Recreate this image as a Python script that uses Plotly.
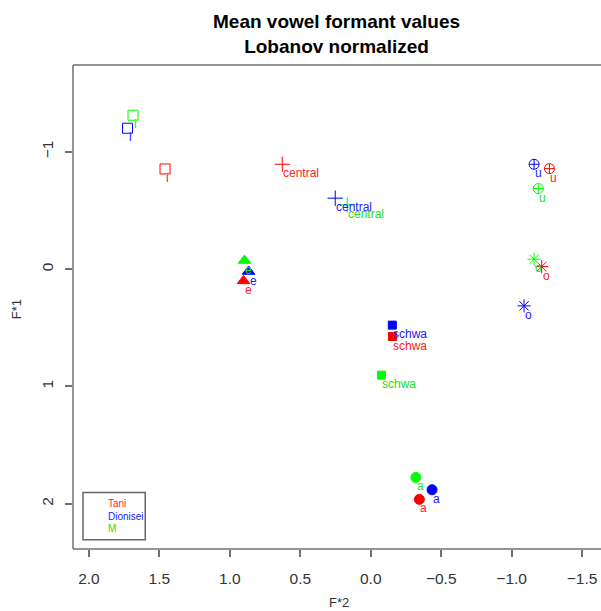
import plotly.graph_objects as go

vowels = ["i", "e", "central", "schwa", "a", "o", "u"]
symbols = ["square-open", "triangle-up", "cross-thin-open", "square", "circle", "asterisk-open", "circle-cross-open"]
sizes = [10, 11, 11, 8, 10, 11, 10]

speakers = ["Tani", "Dionisei", "M"]
colors = ["#FF0000", "#0000FF", "#00FF00"]
text_colors = ["#FF2020", "#2020FF", "#20E020"]

tani_f2 = [1.460, 0.903, 0.628, -0.154, -0.345, -1.213, -1.268]
tani_f1 = [-0.854, 0.100, -0.894, 0.574, 1.962, -0.022, -0.857]
dion_f2 = [1.726, 0.867, 0.252, -0.153, -0.435, -1.088, -1.159]
dion_f1 = [-1.201, 0.020, -0.605, 0.477, 1.880, 0.313, -0.894]
m_f2 = [1.687, 0.896, 0.167, -0.076, -0.320, -1.159, -1.189]
m_f1 = [-1.312, -0.073, -0.548, 0.903, 1.775, -0.085, -0.687]

f2_data = [tani_f2, dion_f2, m_f2]
f1_data = [tani_f1, dion_f1, m_f1]

x_ticks = [2.0, 1.5, 1.0, 0.5, 0.0, -0.5, -1.0, -1.5]
x_tick_text = ["2.0", "1.5", "1.0", "0.5", "0.0", "\u22120.5", "\u22121.0", "\u22121.5"]
y_ticks = [-1, 0, 1, 2]
y_tick_text = ["\u22121", "0", "1", "2"]

W, H = 601, 611
L, T, B = 72.7, 65.0, 549.3
x_range = [2.113, -1.634]
y_range = [2.385, -1.740]

FONT = "Liberation Sans, Arial, sans-serif"

pw = W - L
ph = B - T
def px_x(px):
    return (px - L) / pw
def px_y(py):
    return (B - py) / ph

fig = go.Figure()
annotations = []
for s, (f2, f1, col, tcol) in enumerate(zip(f2_data, f1_data, colors, text_colors)):
    fig.add_trace(go.Scatter(
        x=f2, y=f1, mode="markers", name=speakers[s], showlegend=False,
        marker=dict(symbol=symbols, size=sizes, color=col, opacity=1,
                    line=dict(color=col, width=1)),
        opacity=1,
        hoverinfo="skip",
    ))
    for v, xv, yv in zip(vowels, f2, f1):
        annotations.append(dict(
            x=xv, y=yv, xref="x", yref="y", text=v, showarrow=False,
            xanchor="left", yanchor="middle", xshift=-1, yshift=-9,
            font=dict(family=FONT, size=12, color=tcol),
        ))

# title
annotations.append(dict(
    x=px_x(336), xref="paper", y=px_y(34), yref="paper",
    text="<b>Mean vowel formant values<br>Lobanov normalized</b>",
    showarrow=False, xanchor="center", yanchor="middle",
    font=dict(family=FONT, size=19, color="black"),
))
# axis titles
annotations.append(dict(
    x=px_x(339), xref="paper", y=px_y(603), yref="paper", text="F*2",
    showarrow=False, xanchor="center", yanchor="middle",
    font=dict(family=FONT, size=13, color="#333333"),
))
annotations.append(dict(
    x=px_x(17), xref="paper", y=px_y(309), yref="paper", text="F*1", textangle=-90,
    showarrow=False, xanchor="center", yanchor="middle",
    font=dict(family=FONT, size=13, color="#333333"),
))

shapes = [
    dict(type="rect", xref="paper", yref="paper", x0=px_x(82.7), x1=px_x(145),
         y0=px_y(540), y1=px_y(492.7), line=dict(color="#666666", width=1.5)),
    # plot frame (left, top, bottom)
    dict(type="line", xref="paper", yref="paper", x0=0, x1=0, y0=0, y1=1,
         line=dict(color="#707070", width=1.5)),
    dict(type="line", xref="paper", yref="paper", x0=0, x1=1.02, y0=1, y1=1,
         line=dict(color="#707070", width=1.5)),
    dict(type="line", xref="paper", yref="paper", x0=0, x1=1.02, y0=0, y1=0,
         line=dict(color="#707070", width=1.5)),
]
for name, col, py in zip(speakers, text_colors, [504, 516.5, 529]):
    annotations.append(dict(
        x=px_x(106), xref="paper", y=px_y(py), yref="paper", text=name,
        showarrow=False, xanchor="left", yanchor="middle",
        font=dict(family=FONT, size=10, color=col),
    ))

fig.update_layout(
    width=W, height=H,
    margin=dict(l=L, r=0, t=T, b=H - B, pad=0),
    paper_bgcolor="white", plot_bgcolor="white",
    annotations=annotations, shapes=shapes,
    font=dict(family=FONT),
    xaxis=dict(range=x_range, tickvals=x_ticks, ticktext=x_tick_text,
               ticks="outside", ticklen=7, tickwidth=1.5, tickcolor="#707070",
               showgrid=False, zeroline=False, showline=False,
               tickfont=dict(family=FONT, size=15.5, color="#333333"),
               ticklabelstandoff=8),
    yaxis=dict(range=y_range, tickvals=y_ticks, ticktext=y_tick_text,
               ticks="outside", ticklen=7, tickwidth=1.5, tickcolor="#707070",
               showgrid=False, zeroline=False, showline=False, tickangle=-90,
               tickfont=dict(family=FONT, size=15.5, color="#333333"),
               ticklabelstandoff=6),
)

fig.write_html("out.html")
